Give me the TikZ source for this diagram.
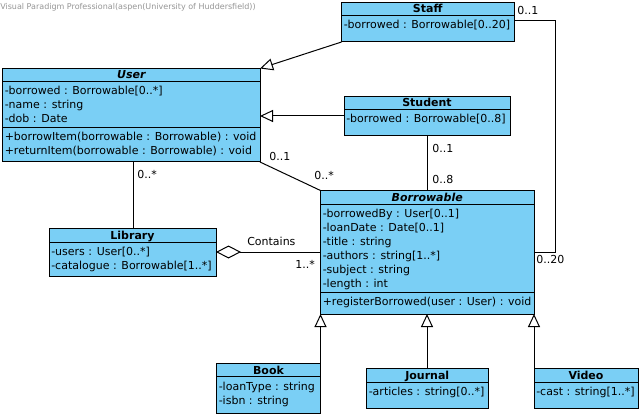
\documentclass[tikz,border=0pt]{standalone}
\usepackage{fontspec}
\setmainfont{DejaVu Sans}
\usetikzlibrary{fit,arrows.meta}
\definecolor{clsfill}{RGB}{122,207,245}
\definecolor{wmgray}{RGB}{150,150,150}
\tikzset{
  cls/.style={draw=black, fill=clsfill, line width=0.75pt, inner sep=0pt, outer sep=0pt},
  sep/.style={line width=0.75pt},
  ttl/.style={inner sep=0pt, anchor=base, font=\fontsize{8.25pt}{10pt}\selectfont\bfseries},
  ttli/.style={ttl, font=\fontsize{8.25pt}{10pt}\selectfont\bfseries\itshape},
  attr/.style={inner sep=0pt, anchor=base west, font=\fontsize{8.25pt}{10pt}\selectfont},
  lbl/.style={inner sep=0pt, anchor=base west, font=\fontsize{8.25pt}{10pt}\selectfont},
  conn/.style={line width=0.75pt},
  gen/.style={conn, -{Triangle[open, length=9.75pt, width=9pt, fill=white]}},
  agg/.style={conn, {Diamond[open, length=18.75pt, width=9.75pt, fill=white]}-},
}
\newcommand\clsbox[5]{\node[cls, fit={(#2,#3) (#4,#5)}] (#1) {};}
\newcommand\hsep[2]{\draw[sep] (#1.west |- 0,#2) -- (#1.east |- 0,#2);}
\begin{document}
\begin{tikzpicture}[x=0.75pt,y=-0.75pt]
\useasboundingbox[fill=white] (0,0) rectangle (642,417);
\node[inner sep=0pt, anchor=base west, text=wmgray, font=\fontsize{6pt}{6.5pt}\selectfont] (wm) at (0,9.5) {Visual Paradigm Professional(aspen(University of Huddersfield))};

% Staff
\clsbox{staff}{341.5}{2.5}{514}{42}
\hsep{staff}{16}
\node[ttl] (staffT) at (staff.north |- 0,13) {Staff};
\node[attr] (staffA) at ([xshift=1.5pt]staff.west |- 0,29) {-borrowed : Borrowable[0..20]};

% User
\clsbox{user}{2.5}{68.5}{260}{162}
\hsep{user}{82}
\hsep{user}{128}
\node[ttli] (userT) at (user.north |- 0,79) {User};
\node[attr] (userA1) at ([xshift=1.5pt]user.west |- 0,95) {-borrowed : Borrowable[0..*]};
\node[attr] (userA2) at ([xshift=1.5pt]user.west |- 0,109) {-name : string};
\node[attr] (userA3) at ([xshift=1.5pt]user.west |- 0,123) {-dob : Date};
\node[attr] (userM1) at ([xshift=1.5pt]user.west |- 0,141) {+borrowItem(borrowable : Borrowable) : void};
\node[attr] (userM2) at ([xshift=1.5pt]user.west |- 0,155) {+returnItem(borrowable : Borrowable) : void};

% Student
\clsbox{student}{344}{96.5}{510}{136}
\hsep{student}{110}
\node[ttl] (studentT) at (student.north |- 0,107) {Student};
\node[attr] (studentA) at ([xshift=1.5pt]student.west |- 0,123) {-borrowed : Borrowable[0..8]};

% Library
\clsbox{library}{49}{228.5}{216}{276}
\hsep{library}{242}
\node[ttl] (libraryT) at (library.north |- 0,239) {Library};
\node[attr] (libraryA1) at ([xshift=1.5pt]library.west |- 0,255) {-users : User[0..*]};
\node[attr] (libraryA2) at ([xshift=1.5pt]library.west |- 0,269) {-catalogue : Borrowable[1..*]};

% Borrowable
\clsbox{borrow}{320.5}{190.5}{534}{314}
\hsep{borrow}{204}
\hsep{borrow}{292}
\node[ttli] (borrowT) at (borrow.north |- 0,201) {Borrowable};
\node[attr] (bA1) at ([xshift=1.5pt]borrow.west |- 0,217) {-borrowedBy : User[0..1]};
\node[attr] (bA2) at ([xshift=1.5pt]borrow.west |- 0,231) {-loanDate : Date[0..1]};
\node[attr] (bA3) at ([xshift=1.5pt]borrow.west |- 0,245) {-title : string};
\node[attr] (bA4) at ([xshift=1.5pt]borrow.west |- 0,259) {-authors : string[1..*]};
\node[attr] (bA5) at ([xshift=1.5pt]borrow.west |- 0,273) {-subject : string};
\node[attr] (bA6) at ([xshift=1.5pt]borrow.west |- 0,287) {-length : int};
\node[attr] (bM1) at ([xshift=1.5pt]borrow.west |- 0,305) {+registerBorrowed(user : User) : void};

% Book
\clsbox{book}{216.5}{363}{320.5}{413}
\hsep{book}{376.5}
\node[ttl] (bookT) at (book.north |- 0,374) {Book};
\node[attr] (bookA1) at ([xshift=1.5pt]book.west |- 0,390) {-loanType : string};
\node[attr] (bookA2) at ([xshift=1.5pt]book.west |- 0,404) {-isbn : string};

% Journal
\clsbox{journal}{366.5}{368.5}{488}{408}
\hsep{journal}{382}
\node[ttl] (journalT) at (journal.north |- 0,379) {Journal};
\node[attr] (journalA) at ([xshift=1.5pt]journal.west |- 0,395) {-articles : string[0..*]};

% Video
\clsbox{video}{534}{368.5}{638}{408}
\hsep{video}{382}
\node[ttl] (videoT) at (video.north |- 0,379) {Video};
\node[attr] (videoA) at ([xshift=1.5pt]video.west |- 0,395) {-cast : string[1..*]};

% Generalizations
\draw[gen] (staff.south west) -- (user.north east);
\draw[gen] (student.west |- 0,116) -- (user.east |- 0,116);
\draw[gen] (book.north east) -- (book.north east |- borrow.south);
\draw[gen] (journal.north -| 427,0) -- (borrow.south -| 427,0);
\draw[gen] (video.north west) -- (video.north west |- borrow.south);

% Associations
\coordinate (c1) at (555,21);
\coordinate (c2) at (555,252);
\draw[conn] (staff.east |- c1) -- (c1) -- (c2) -- (borrow.east |- c2);
\draw[conn] (user.south east) -- (borrow.north west);
\draw[conn] (user.south -| 133,0) -- (library.north -| 133,0);
\draw[conn] (student.south -| 427,0) -- (borrow.north -| 427,0);
\draw[agg] (library.east |- 0,252) -- (borrow.west |- 0,252);

% Multiplicity labels
\node[lbl] (m1) at (517,15) {0..1};
\node[lbl] (m2) at (536,263) {0..20};
\node[lbl] (m3) at (269,161) {0..1};
\node[lbl] (m4) at (314,180) {0..*};
\node[lbl] (m5) at (137,179) {0..*};
\node[lbl] (m6) at (432,153) {0..1};
\node[lbl] (m7) at (432,183) {0..8};
\node[lbl] (m8) at (247,245) {Contains};
\node[lbl] (m9) at (295,268) {1..*};
\end{tikzpicture}
\end{document}
